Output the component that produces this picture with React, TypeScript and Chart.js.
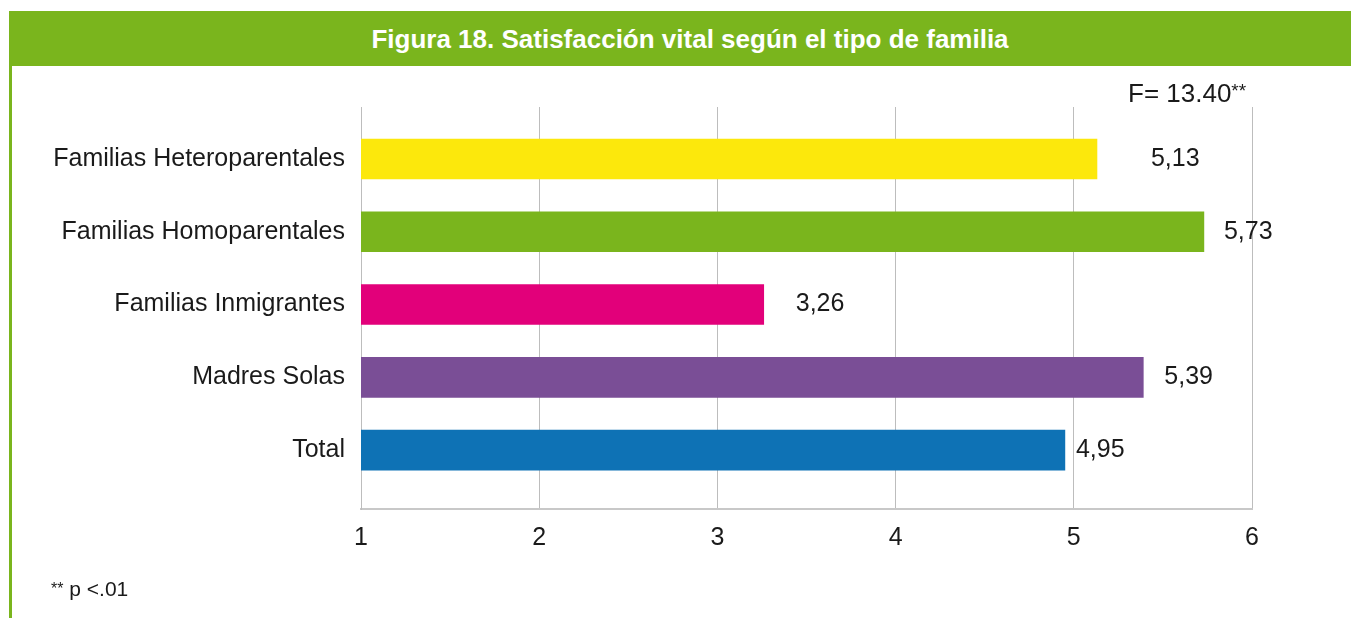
import React, { useEffect, useRef } from "react";
import { Chart, registerables } from "chart.js";

Chart.register(...registerables);

const categories = [
  "Familias Heteroparentales",
  "Familias Homoparentales",
  "Familias Inmigrantes",
  "Madres Solas",
  "Total",
];
const values = [5.13, 5.73, 3.26, 5.39, 4.95];
const valueLabels = ["5,13", "5,73", "3,26", "5,39", "4,95"];
const barColors = ["#FCE80C", "#7AB51D", "#E2007A", "#7A4E96", "#0E72B5"];
const xTicks = [1, 2, 3, 4, 5, 6];

const FONT = "'Liberation Sans', Arial, Helvetica, sans-serif";

const valueLabelPlugin = {
  id: "valueLabels",
  afterDatasetsDraw(chart: any, _args: any, opts: any) {
    const ctx = chart.ctx;
    const meta = chart.getDatasetMeta(0);
    ctx.save();
    ctx.font = `25px ${FONT}`;
    ctx.fillStyle = "#1a1a1a";
    ctx.textAlign = "left";
    ctx.textBaseline = "middle";
    meta.data.forEach((bar: any, i: number) => {
      const off = (opts.offsets && opts.offsets[i]) ?? 24;
      ctx.fillText(valueLabels[i], bar.x + off, bar.y);
    });
    ctx.restore();
  },
};

export default function App() {
  const canvasRef = useRef<HTMLCanvasElement | null>(null);

  useEffect(() => {
    if (!canvasRef.current) return;
    const chart = new Chart(canvasRef.current, {
      type: "bar",
      data: {
        datasets: [
          {
            data: values.map((v, i) => ({ x: v, y: i })) as any,
            backgroundColor: barColors,
            barThickness: 40,
            borderWidth: 0,
          },
        ],
      },
      plugins: [valueLabelPlugin],
      options: {
        indexAxis: "y",
        animation: false,
        responsive: false,
        maintainAspectRatio: false,
        layout: { padding: { left: 0, right: 99, top: 107, bottom: 69 } },
        plugins: {
          legend: { display: false },
          tooltip: { enabled: false },
          valueLabels: { offsets: [54, 20, 32, 21, 11] },
        } as any,
        scales: {
          x: {
            type: "linear",
            min: 1,
            max: 6,
            offset: false,
            afterBuildTicks: (s: any) => {
              s.ticks = xTicks.map((v) => ({ value: v }));
            },
            afterFit: (s: any) => {
              s.height = 40;
            },
            grid: { color: "#bdbdbd", lineWidth: 1, drawTicks: false, offset: false },
            border: { display: true, color: "#c8c8c8", width: 2 },
            ticks: {
              padding: 14,
              color: "#1a1a1a",
              font: { family: FONT, size: 25 },
            },
          },
          y: {
            type: "linear",
            reverse: true,
            offset: false,
            min: -0.715,
            max: 4.81,
            afterBuildTicks: (s: any) => {
              s.ticks = categories.map((_, i) => ({ value: i }));
            },
            afterFit: (s: any) => {
              s.width = 361;
            },
            grid: { display: false, drawTicks: false, offset: false },
            border: { display: true, color: "#bdbdbd", width: 1 },
            ticks: {
              autoSkip: false,
              padding: 16,
              color: "#1a1a1a",
              font: { family: FONT, size: 25 },
              callback: (v: any) => categories[v as number] ?? "",
            },
          },
        },
      },
    });
    return () => chart.destroy();
  }, []);

  return (
    <div
      style={{
        position: "absolute",
        left: 0,
        top: 0,
        width: 1351,
        height: 618,
        background: "#ffffff",
        overflow: "hidden",
        fontFamily: FONT,
      }}
    >
      <div
        style={{
          position: "absolute",
          left: 9,
          top: 11,
          width: 1342,
          height: 55,
          background: "#7AB51D",
        }}
      />
      <div
        style={{
          position: "absolute",
          left: 190,
          top: 12,
          width: 1000,
          height: 55,
          lineHeight: "55px",
          textAlign: "center",
          color: "#ffffff",
          fontWeight: "bold",
          fontSize: 26,
          whiteSpace: "nowrap",
        }}
      >
        Figura 18. Satisfacción vital según el tipo de familia
      </div>
      <div
        style={{
          position: "absolute",
          left: 9,
          top: 66,
          width: 3,
          height: 552,
          background: "#7AB51D",
        }}
      />
      <canvas
        ref={canvasRef}
        width={1351}
        height={618}
        style={{ position: "absolute", left: 0, top: 0, width: 1351, height: 618 }}
      />
      <div
        style={{
          position: "absolute",
          left: 1128,
          top: 80,
          fontSize: 26,
          lineHeight: "26px",
          color: "#1a1a1a",
          whiteSpace: "nowrap",
        }}
      >
        F= 13.40
        <span style={{ fontSize: 19, verticalAlign: "top", position: "relative", top: -2 }}>**</span>
      </div>
      <div
        style={{
          position: "absolute",
          left: 51,
          top: 578,
          fontSize: 21,
          lineHeight: "21px",
          color: "#1a1a1a",
          whiteSpace: "nowrap",
        }}
      >
        <span style={{ fontSize: 16, verticalAlign: "top" }}>**</span> p &lt;.01
      </div>
    </div>
  );
}
